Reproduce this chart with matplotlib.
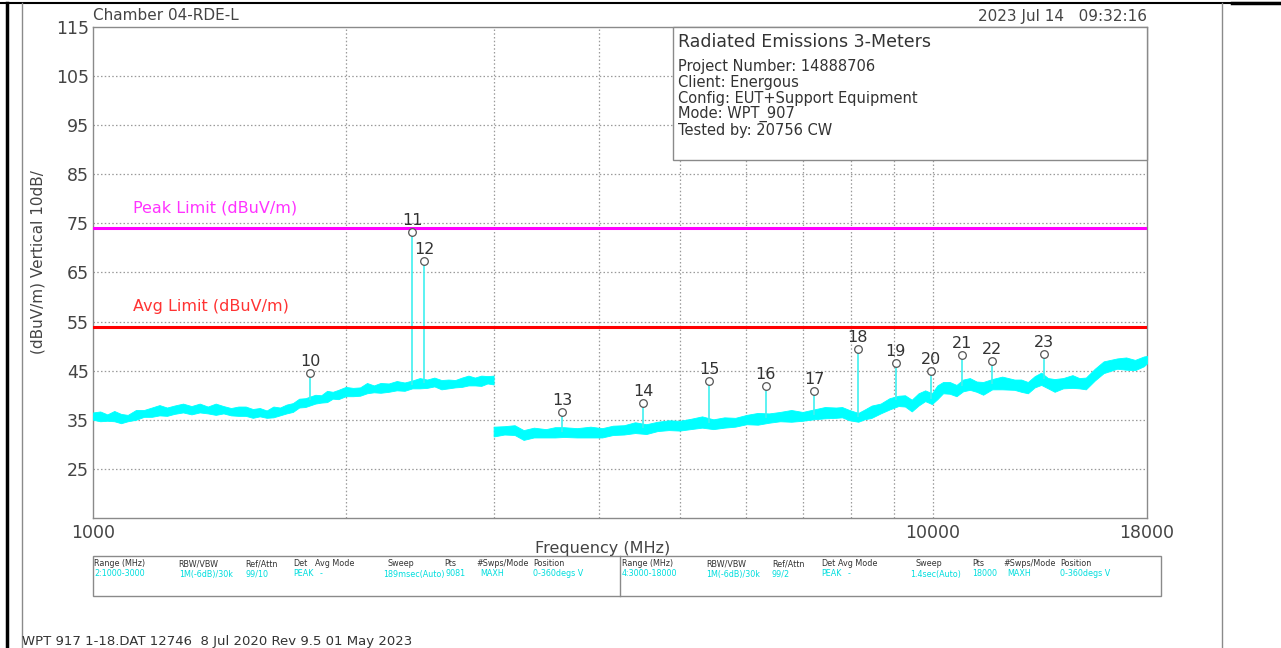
import matplotlib
matplotlib.use("Agg")
import matplotlib.pyplot as plt
from matplotlib import font_manager
from matplotlib.lines import Line2D
from matplotlib.patches import Rectangle

# ---------------- data ----------------
seg1_freq = [1000, 1020, 1040, 1060, 1080, 1100, 1125, 1150, 1175, 1200,
             1225, 1250, 1280, 1310, 1340, 1370, 1400, 1430, 1460, 1490,
             1520, 1550, 1580, 1610, 1640, 1670, 1700, 1730, 1760, 1790,
             1840, 1870, 1900, 1930, 1960, 2000, 2040, 2080, 2120, 2160,
             2200, 2250, 2300, 2350, 2400, 2450, 2500, 2550, 2600, 2650,
             2700, 2750, 2800, 2850, 2900, 2950, 3000]
seg1_level = [35.7, 35.6, 35.4, 35.5, 35.3, 35.4, 35.8, 36.2, 36.5, 36.6,
              36.8, 37.0, 37.1, 37.0, 37.2, 37.1, 37.0, 36.9, 36.7, 36.7,
              36.5, 36.4, 36.3, 36.2, 36.4, 36.6, 37.1, 37.6, 38.1, 38.5,
              39.0, 39.3, 39.6, 39.9, 40.1, 40.5, 40.6, 40.9, 41.1, 41.2,
              41.4, 41.5, 41.7, 41.9, 42.0, 42.2, 42.4, 42.5, 42.2, 42.0,
              42.4, 42.6, 42.7, 42.8, 42.9, 43.0, 43.0]
seg1_up = [0.8, 1.1, 0.7, 1.3, 0.9, 0.6, 1.2, 0.8, 1.0, 1.4,
           0.7, 0.9, 1.2, 0.8, 1.1, 0.6, 1.3, 0.9, 0.7, 1.0,
           1.2, 0.8, 1.1, 0.7, 1.3, 0.9, 1.0, 0.8, 1.2, 0.9,
           1.1, 0.7, 1.3, 0.8, 1.0, 1.2, 0.9, 0.7, 1.4, 0.8,
           1.1, 0.9, 1.2, 0.7, 1.0, 1.3, 0.8, 1.1, 0.9, 1.2,
           0.7, 1.0, 1.3, 0.8, 1.1, 0.9, 1.0]
seg1_dn = [0.7, 0.9, 0.6, 0.8, 1.0, 0.7, 0.8, 0.6, 0.9, 0.7,
           1.0, 0.8, 0.6, 0.9, 0.7, 0.8, 1.0, 0.6, 0.8, 0.9,
           0.7, 1.0, 0.6, 0.8, 0.9, 0.7, 0.8, 1.0, 0.6, 0.9,
           0.7, 0.8, 1.0, 0.6, 0.9, 0.7, 0.8, 1.0, 0.7, 0.6,
           0.9, 0.8, 0.7, 1.0, 0.6, 0.8, 0.9, 0.7, 1.0, 0.6,
           0.8, 0.9, 0.7, 0.8, 1.0, 0.6, 0.8]

seg2_freq = [3000, 3090, 3178, 3257, 3350, 3462, 3550, 3637, 3770, 3913,
             4040, 4161, 4290, 4422, 4560, 4702, 4850, 4997, 5150, 5313,
             5480, 5648, 5820, 6003, 6190, 6383, 6580, 6786, 7000, 7216,
             7440, 7671, 7800, 7958, 8154, 8300, 8459, 8670, 8884, 9105,
             9270, 9443, 9620, 9797, 9979, 10130, 10290, 10480, 10675, 10870,
             11073, 11280, 11485, 11774, 12100, 12514, 12750, 12984, 13230, 13468,
             13720, 13971, 14300, 14672, 14950, 15222, 15600, 15981, 16585, 17000,
             17417, 17845, 18000]
seg2_level = [32.6, 32.9, 32.7, 32.0, 32.3, 32.4, 32.2, 32.6, 32.3, 32.4,
              32.5, 32.7, 33.0, 33.2, 33.3, 33.6, 33.7, 33.9, 34.1, 34.3,
              34.2, 34.3, 34.6, 34.9, 35.1, 35.4, 35.6, 35.8, 35.8, 36.0,
              36.3, 36.6, 36.4, 36.0, 35.6, 36.0, 36.6, 37.3, 38.2, 39.0,
              38.7, 38.0, 39.0, 40.0, 39.2, 40.5, 41.6, 41.4, 41.1, 41.8,
              42.3, 41.8, 41.4, 42.2, 42.4, 42.2, 42.0, 41.6, 42.6, 43.4,
              42.5, 41.9, 42.4, 42.8, 42.5, 42.4, 44.0, 45.8, 46.5, 46.4,
              46.1, 47.0, 47.2]
seg2_up = [1.0, 0.8, 1.2, 0.9, 1.1, 0.7, 1.3, 0.9, 1.0, 1.2,
           0.8, 1.1, 0.9, 1.3, 0.8, 1.0, 1.2, 0.9, 1.1, 1.4,
           0.9, 1.2, 0.8, 1.1, 1.3, 0.9, 1.0, 1.2, 0.8, 1.1,
           1.3, 0.9, 1.2, 1.0, 0.8, 1.1, 1.3, 1.0, 1.2, 0.9,
           1.3, 1.1, 1.4, 1.0, 1.2, 1.5, 1.1, 1.3, 1.0, 1.4,
           1.2, 1.0, 1.3, 1.1, 1.4, 1.0, 1.2, 1.1, 1.3, 1.2,
           1.0, 1.4, 1.1, 1.3, 1.0, 1.2, 1.4, 1.1, 1.0, 1.3,
           1.1, 0.9, 0.8]
seg2_dn = [1.0, 0.9, 0.8, 1.1, 0.9, 1.0, 0.8, 1.1, 0.9, 1.0,
           1.1, 0.8, 1.0, 0.9, 1.2, 0.9, 0.8, 1.1, 1.0, 0.9,
           1.1, 0.9, 1.0, 0.8, 1.1, 1.0, 0.9, 1.2, 1.0, 0.9,
           1.0, 1.2, 0.9, 1.1, 1.0, 0.9, 1.2, 1.0, 1.1, 1.2,
           1.0, 1.3, 1.1, 1.2, 1.0, 1.3, 1.2, 1.1, 1.3, 1.0,
           1.2, 1.1, 1.3, 1.0, 1.2, 1.1, 1.3, 1.2, 1.0, 1.3,
           1.1, 1.2, 1.0, 1.3, 1.1, 1.2, 1.0, 1.3, 1.1, 1.2,
           1.0, 1.1, 0.7]

marker_ids = ["10", "11", "12", "13", "14", "15", "16", "17", "18", "19", "20", "21", "22", "23"]
marker_freq = [1813, 2401, 2481, 3620, 4525, 5420, 6330, 7230, 8140, 9040, 9950, 10850, 11760, 13570]
marker_level = [44.6, 73.2, 67.3, 36.5, 38.5, 42.9, 41.9, 40.9, 49.4, 46.5, 45.0, 48.1, 47.0, 48.5]
marker_base = [39.0, 42.0, 42.5, 32.6, 33.4, 34.3, 35.3, 36.0, 35.6, 39.0, 39.2, 41.8, 42.2, 43.3]

peak_limit = 74.0
avg_limit = 54.0

y_ticks = [25, 35, 45, 55, 65, 75, 85, 95, 105, 115]
x_grid = [2000, 3000, 4000, 5000, 6000, 7000, 8000, 9000, 10000]
x_labels = [1000, 10000, 18000]

info_title = "Radiated Emissions 3-Meters"
info_lines = ["Project Number: 14888706", "Client: Energous",
              "Config: EUT+Support Equipment", "Mode: WPT_907", "Tested by: 20756 CW"]

tbl_headers = ["Range (MHz)", "RBW/VBW", "Ref/Attn", "Det", "Avg Mode", "Sweep", "Pts",
               "#Swps/Mode", "Position"]
tbl_left = ["2:1000-3000", "1M(-6dB)/30k", "99/10", "PEAK", "-", "189msec(Auto)", "9081",
            "MAXH", "0-360degs V"]
tbl_right = ["4:3000-18000", "1M(-6dB)/30k", "99/2", "PEAK", "-", "1.4sec(Auto)", "18000",
             "MAXH", "0-360degs V"]
tbl_hx_left = [94, 178, 245, 293, 315, 387, 444, 476, 533]
tbl_vx_left = [94, 179, 245, 293, 320, 383, 445, 480, 533]
tbl_hx_right = [622, 706, 772, 821, 838, 915, 972, 1003, 1060]
tbl_vx_right = [622, 706, 772, 821, 848, 910, 972, 1007, 1060]

# ---------------- fonts ----------------
avail = {f.name for f in font_manager.fontManager.ttflist}
narrow = "Liberation Sans Narrow" if "Liberation Sans Narrow" in avail else "DejaVu Sans"
main_font = "DejaVu Sans"
plt.rcParams["font.family"] = [main_font]

W, H = 1281, 648
fig = plt.figure(figsize=(W / 100, H / 100), dpi=100)
fig.patch.set_facecolor("white")

def fx(px):
    return px / W

def fy(py):
    return 1 - py / H

L, R, T, B = 93, 1147, 27, 518
ax = fig.add_axes([fx(L), fy(B), (R - L) / W, (B - T) / H])
ax.set_xscale("log")
ax.set_xlim(1000, 18000)
ax.set_ylim(15, 115)

gridc = "#9a9a9a"
for yv in y_ticks[:-1]:
    ax.axhline(yv, color=gridc, lw=0.9, ls=(0, (1.2, 1.8)), zorder=1)
for xv in x_grid:
    ax.axvline(xv, color=gridc, lw=0.9, ls=(0, (1.2, 1.8)), zorder=1)

cyan = "#00ffff"
for fr, lv, up, dn in ((seg1_freq, seg1_level, seg1_up, seg1_dn),
                       (seg2_freq, seg2_level, seg2_up, seg2_dn)):
    hi = [a + b for a, b in zip(lv, up)]
    lo = [a - b for a, b in zip(lv, dn)]
    ax.fill_between(fr, lo, hi, color=cyan, lw=0.6, edgecolor=cyan, zorder=3)

ax.vlines(marker_freq, marker_base, [m - 0.6 for m in marker_level], color="#40f0f0", lw=1.2, zorder=4)
ax.plot(marker_freq, marker_level, ls="none", marker="o", ms=5.5, mfc="white", mec="#555555",
        mew=0.9, zorder=5)
for mid, mf, ml in zip(marker_ids, marker_freq, marker_level):
    ax.annotate(mid, (mf, ml), xytext=(0, 4), textcoords="offset pixels", ha="center",
                va="bottom", fontsize=11.5, color="#333333", family=main_font, zorder=6)

ax.axhline(peak_limit, color="#ff00ff", lw=2.2, zorder=4)
ax.axhline(avg_limit, color="#ff0000", lw=2.2, zorder=4)
ax.text(1116, peak_limit + 2.6, "Peak Limit (dBuV/m)", color="#ff33ff", fontsize=11.5,
        ha="left", va="bottom", zorder=6)
ax.text(1116, avg_limit + 2.6, "Avg Limit (dBuV/m)", color="#ff3333", fontsize=11.5,
        ha="left", va="bottom", zorder=6)

for sp in ax.spines.values():
    sp.set_color("#8a8a8a")
    sp.set_linewidth(1.0)
ax.set_yticks(y_ticks)
ax.set_yticklabels([str(v) for v in y_ticks], fontsize=12.5, color="#444444")
ax.set_xticks(x_labels)
ax.set_xticklabels([str(v) for v in x_labels], fontsize=12.5, color="#444444")
ax.xaxis.set_minor_locator(matplotlib.ticker.NullLocator())
ax.tick_params(axis="both", length=0, pad=3)
ax.tick_params(axis="x", pad=4)

# info box
ax_box = Rectangle((fx(673), fy(160)), fx(1147) - fx(673), fy(27) - fy(160), transform=fig.transFigure,
                   facecolor="white", edgecolor="#8a8a8a", lw=1.0, zorder=10)
fig.patches.append(ax_box)
fig.text(fx(678), fy(42), info_title, fontsize=12.5, color="#333333", va="center", ha="left", zorder=11)
for i, line in enumerate(info_lines):
    fig.text(fx(678), fy(66 + 16 * i), line, fontsize=10.5, color="#333333", va="center", ha="left",
             zorder=11)

# header texts
fig.text(fx(93), fy(16), "Chamber 04-RDE-L", fontsize=11, color="#444444", va="center", ha="left")
fig.text(fx(1147), fy(16), "2023 Jul 14   09:32:16", fontsize=11, color="#444444", va="center",
         ha="right")

fig.text(fx(38), fy(262), "(dBuV/m) Vertical 10dB/", rotation=90, fontsize=11, color="#444444",
         va="center", ha="center")
fig.text(fx(603), fy(548), "Frequency (MHz)", fontsize=11.5, color="#444444", va="center",
         ha="center")

# bottom table
tbl = Rectangle((fx(93), fy(596)), fx(1161) - fx(93), fy(556) - fy(596), transform=fig.transFigure,
                facecolor="none", edgecolor="#8a8a8a", lw=1.0)
fig.patches.append(tbl)
fig.add_artist(Line2D([fx(620), fx(620)], [fy(556), fy(596)], color="#8a8a8a", lw=1.0))
for hx, h in zip(tbl_hx_left, tbl_headers):
    fig.text(fx(hx), fy(564), h, fontsize=5.8, color="#333333", va="center", ha="left", family=narrow)
for hx, h in zip(tbl_hx_right, tbl_headers):
    fig.text(fx(hx), fy(564), h, fontsize=5.8, color="#333333", va="center", ha="left", family=narrow)
for vx, v in zip(tbl_vx_left, tbl_left):
    fig.text(fx(vx), fy(574), v, fontsize=5.8, color="#00dede", va="center", ha="left", family=narrow)
for vx, v in zip(tbl_vx_right, tbl_right):
    fig.text(fx(vx), fy(574), v, fontsize=5.8, color="#00dede", va="center", ha="left", family=narrow)

fig.text(fx(22), fy(642), "WPT 917 1-18.DAT 12746  8 Jul 2020 Rev 9.5 01 May 2023", fontsize=9.5,
         color="#333333", va="center", ha="left")

# page frame
fig.add_artist(Line2D([fx(7), fx(7)], [0, fy(3)], color="black", lw=2.5))
fig.add_artist(Line2D([0, 1], [fy(3), fy(3)], color="black", lw=1.5))
fig.add_artist(Line2D([fx(1232), 1], [fy(3), fy(3)], color="black", lw=2.5))
fig.add_artist(Line2D([fx(22), fx(22)], [0, fy(3)], color="#8a8a8a", lw=1.0))
fig.add_artist(Line2D([fx(1222), fx(1222)], [0, fy(3)], color="#8a8a8a", lw=1.0))

fig.savefig("out.png", dpi=100, facecolor="white")
